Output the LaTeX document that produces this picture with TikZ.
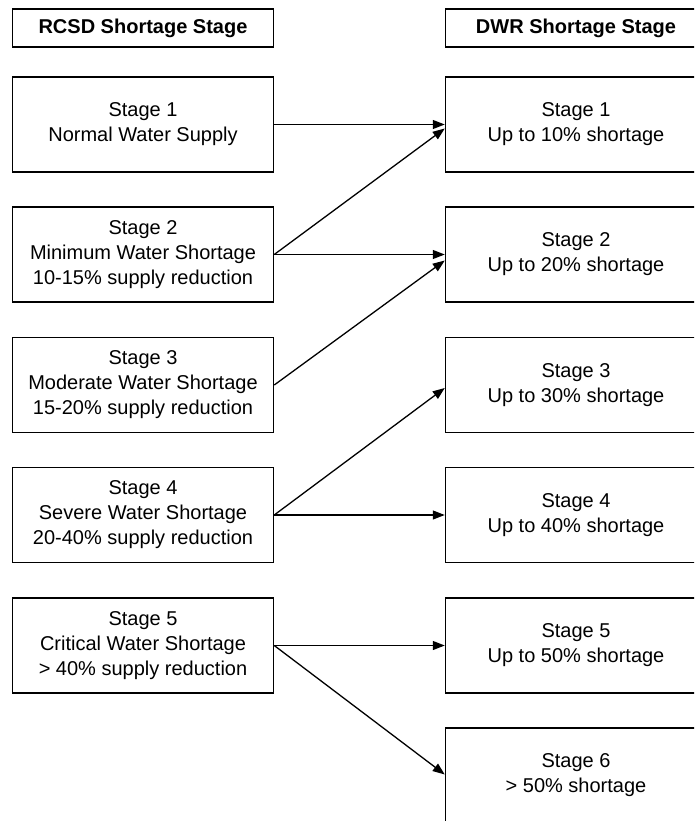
\documentclass[tikz,border=0pt]{standalone}
\usepackage{fontspec}
\setmainfont{Liberation Sans}
\usetikzlibrary{arrows.meta}
\begin{document}
\begin{tikzpicture}[x=1pt,y=-1pt,
  stagebox/.style={draw=black,line width=1.5pt,minimum width=261pt,minimum height=95pt,
    inner sep=0pt,align=center,font=\fontsize{20}{25}\selectfont},
  headbox/.style={draw=black,line width=1.5pt,minimum width=261pt,minimum height=38pt,
    inner sep=0pt,align=center,font=\fontsize{20}{25}\selectfont\bfseries},
  conn/.style={line width=1.3pt,-{Triangle[length=12pt,width=9pt]}}]
\clip (0,0) rectangle (694,821);
\fill[white] (0,0) rectangle (694,821);
\node[headbox] (HL) at (143,28) {RCSD Shortage Stage};
\node[headbox] (HR) at (576,28) {DWR Shortage Stage};
\node[stagebox] (L1) at (143,124.5) {Stage 1\\Normal Water Supply};
\node[stagebox] (L2) at (143,254.5) {Stage 2\\Minimum Water Shortage\\10-15\% supply reduction};
\node[stagebox] (L3) at (143,385) {Stage 3\\Moderate Water Shortage\\15-20\% supply reduction};
\node[stagebox] (L4) at (143,515) {Stage 4\\Severe Water Shortage\\20-40\% supply reduction};
\node[stagebox] (L5) at (143,645.5) {Stage 5\\Critical Water Shortage\\> 40\% supply reduction};
\node[stagebox] (R1) at (576,124.5) {Stage 1\\Up to 10\% shortage};
\node[stagebox] (R2) at (576,254.5) {Stage 2\\Up to 20\% shortage};
\node[stagebox] (R3) at (576,385) {Stage 3\\Up to 30\% shortage};
\node[stagebox] (R4) at (576,515) {Stage 4\\Up to 40\% shortage};
\node[stagebox] (R5) at (576,645.5) {Stage 5\\Up to 50\% shortage};
\node[stagebox] (R6) at (576,775.5) {Stage 6\\> 50\% shortage};
\draw[conn] (L1.east) -- (R1.west);
\draw[conn] (L2.east) -- ([yshift=-4pt]R1.west);
\draw[conn] (L2.east) -- (R2.west);
\draw[conn] (L3.east) -- ([yshift=-6pt]R2.west);
\draw[conn] (L4.east) -- ([yshift=-3pt]R3.west);
\draw[conn] (L4.east) -- (R4.west);
\draw[conn] (L5.east) -- (R5.west);
\draw[conn] (L5.east) -- ([yshift=1pt]R6.west);
\end{tikzpicture}
\end{document}
